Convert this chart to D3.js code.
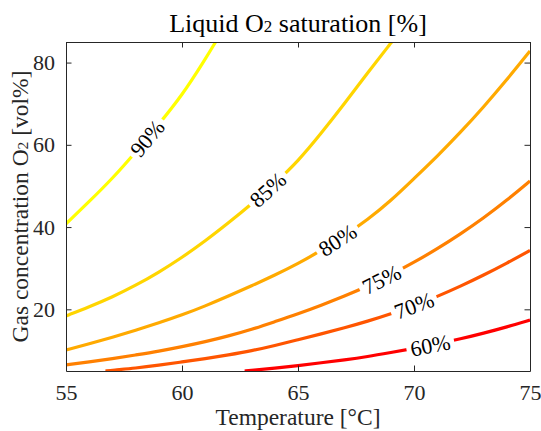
<!DOCTYPE html>
<html>
<head>
<meta charset="utf-8">
<script src="https://cdn.jsdelivr.net/npm/d3@7"></script>
<style>
  html, body { margin: 0; padding: 0; background: #fff; }
  svg { display: block; }
  text { font-family: "Liberation Serif", "Times New Roman", serif; fill: #262626; }
</style>
</head>
<body>
<svg id="chart" width="541" height="431"></svg>
<script>
// Contour levels of liquid O2 saturation [%]
const levels = [60, 70, 75, 80, 85, 90];

// Each contour: temperatures [°C] and gas O2 concentration [vol%]
const temp60 = [62.7, 63, 64, 65, 66, 67, 68, 69, 70, 71, 72, 73, 74, 75];
const gas60  = [5.0, 5.15, 5.7, 6.3, 7.0, 7.7, 8.5, 9.5, 10.5, 11.6, 12.8, 14.2, 15.7, 17.4];

const temp70 = [56.7, 57, 58, 59, 60, 61, 62, 63, 64, 65, 66, 67, 68, 69, 70, 71, 72, 73, 74, 75];
const gas70  = [5.0, 5.2, 5.7, 6.4, 7.2, 8.0, 8.9, 9.9, 11.2, 12.6, 14.0, 15.5, 17.1, 18.9, 20.9, 23.1, 25.6, 28.3, 31.2, 34.3];

const temp75 = [55, 56, 57, 58, 59, 60, 61, 62, 63, 64, 65, 66, 67, 68, 69, 70, 71, 72, 73, 74, 75];
const gas75  = [6.5, 7.2, 8.0, 8.9, 9.8, 10.9, 12.1, 13.5, 15.1, 17.0, 18.9, 21.0, 23.2, 25.6, 28.4, 31.4, 34.7, 38.3, 42.2, 46.5, 51.2];

const temp80 = [55, 56, 57, 58, 59, 60, 61, 62, 63, 64, 65, 66, 67, 68, 69, 70, 71, 72, 73, 74, 75];
const gas80  = [10.1, 11.6, 13.2, 14.9, 16.7, 18.6, 20.8, 23.2, 25.7, 28.3, 31.1, 34.3, 37.9, 41.8, 46.4, 51.8, 57.2, 63.0, 69.2, 75.8, 82.8];

const temp85 = [55, 56, 57, 58, 59, 60, 61, 62, 63, 64, 65, 66, 67, 68, 69, 69.1];
const gas85  = [18.4, 20.6, 23.0, 25.8, 29.0, 32.6, 36.6, 41.0, 45.6, 50.6, 56.0, 62.8, 70.0, 77.5, 84.7, 85.5];

const temp90 = [55, 56, 57, 58, 59, 60, 61, 61.5];
const gas90  = [40.8, 46.2, 51.8, 58.2, 65.0, 72.0, 80.8, 85.5];

// Temperature along each contour where its inline label sits
const labelTemp = [70.7, 70.0, 68.6, 66.7, 63.7, 58.5];

const xTicks = [55, 60, 65, 70, 75];
const yTicks = [20, 40, 60, 80];

const tempSeries = [temp60, temp70, temp75, temp80, temp85, temp90];
const gasSeries  = [gas60, gas70, gas75, gas80, gas85, gas90];

const svg = d3.select("#chart");
const m = { left: 66, right: 11, top: 42, bottom: 60 };
const W = 541, H = 431;

const x = d3.scaleLinear().domain([55, 75]).range([m.left, W - m.right]);
const y = d3.scaleLinear().domain([5, 85]).range([H - m.bottom, m.top]);

// Autumn colormap: red at the lowest level, yellow at the highest
const color = d3.scaleLinear()
  .domain([d3.min(levels), d3.max(levels)])
  .range(["#ff0000", "#ffff00"])
  .interpolate(d3.interpolateRgb);

svg.append("defs").append("clipPath").attr("id", "plotClip")
  .append("rect")
  .attr("x", x(55)).attr("y", y(85))
  .attr("width", x(75) - x(55)).attr("height", y(5) - y(85));

const plot = svg.append("g").attr("clip-path", "url(#plotClip)");

const line = d3.line()
  .x(d => x(d[0]))
  .y(d => y(d[1]))
  .curve(d3.curveBasis);

const fontSize = 22;

levels.forEach((lv, i) => {
  const pts = tempSeries[i].map((t, k) => [t, gasSeries[i][k]]);
  plot.append("path")
    .datum(pts)
    .attr("d", line)
    .attr("fill", "none")
    .attr("stroke", color(lv))
    .attr("stroke-width", 3.2);
});

// Inline labels, rotated along each contour, with a gap cut in the line
const labels = svg.append("g");
levels.forEach((lv, i) => {
  const pts = tempSeries[i].map((t, k) => [t, gasSeries[i][k]]);
  const tmp = svg.append("path").attr("d", line(pts)).attr("fill", "none");
  const node = tmp.node();
  const total = node.getTotalLength();
  const targetX = x(labelTemp[i]);
  let lo = 0, hi = total;
  for (let it = 0; it < 40; it++) {
    const mid = (lo + hi) / 2;
    if (node.getPointAtLength(mid).x < targetX) lo = mid; else hi = mid;
  }
  const L = (lo + hi) / 2;
  const p = node.getPointAtLength(L);
  const a = node.getPointAtLength(Math.max(0, L - 3));
  const b = node.getPointAtLength(Math.min(total, L + 3));
  const ang = Math.atan2(b.y - a.y, b.x - a.x) * 180 / Math.PI;
  tmp.remove();

  const g = labels.append("g")
    .attr("transform", `translate(${p.x},${p.y}) rotate(${ang})`);
  const gap = g.append("rect").attr("fill", "#fff");
  const t = g.append("text")
    .attr("text-anchor", "middle")
    .attr("dy", "0.35em")
    .style("font-size", fontSize + "px")
    .style("fill", "#000")
    .text(lv + "%");
  const w = t.node().getComputedTextLength();
  gap.attr("x", -w / 2 - 4).attr("y", -7).attr("width", w + 8).attr("height", 14);
});

// Axes box with inward ticks on all four sides
const axisColor = "#262626";
const tickLen = 5.5;
const ax = svg.append("g");

const xAxisB = d3.axisBottom(x).tickValues(xTicks).tickSizeInner(-tickLen).tickSizeOuter(0).tickPadding(13);
const xAxisT = d3.axisTop(x).tickValues(xTicks).tickSizeInner(-tickLen).tickSizeOuter(0).tickFormat("");
const yAxisL = d3.axisLeft(y).tickValues(yTicks).tickSizeInner(-tickLen).tickSizeOuter(0).tickPadding(11);
const yAxisR = d3.axisRight(y).tickValues(yTicks).tickSizeInner(-tickLen).tickSizeOuter(0).tickFormat("");

function styleAxis(g) {
  g.select(".domain").attr("stroke", axisColor).attr("stroke-width", 1);
  g.selectAll(".tick line").attr("stroke", axisColor).attr("stroke-width", 1);
  g.selectAll(".tick text")
    .style("font-family", '"Liberation Serif", "Times New Roman", serif')
    .style("font-size", "22px")
    .attr("fill", axisColor);
}

ax.append("g").attr("transform", `translate(0,${y(5)})`).call(xAxisB).call(styleAxis);
ax.append("g").attr("transform", `translate(0,${y(85)})`).call(xAxisT).call(styleAxis);
ax.append("g").attr("transform", `translate(${x(55)},0)`).call(yAxisL).call(styleAxis);
ax.append("g").attr("transform", `translate(${x(75)},0)`).call(yAxisR).call(styleAxis);
ax.selectAll(".domain").attr("fill", "none");

// Title
const title = svg.append("text")
  .attr("x", (x(55) + x(75)) / 2)
  .attr("y", 32)
  .attr("text-anchor", "middle")
  .style("font-size", "26px")
  .style("fill", "#000");
title.append("tspan").text("Liquid O");
title.append("tspan").text("2").style("font-size", "17px");
title.append("tspan").text(" saturation [%]");

// Axis labels
svg.append("text")
  .attr("x", (x(55) + x(75)) / 2)
  .attr("y", 425)
  .attr("text-anchor", "middle")
  .style("font-size", "23.5px")
  .text("Temperature [°C]");

const yl = svg.append("text")
  .attr("transform", `translate(28,${(y(5) + y(85)) / 2}) rotate(-90)`)
  .attr("text-anchor", "middle")
  .style("font-size", "23.5px");
yl.append("tspan").text("Gas concentration O");
yl.append("tspan").text("2").style("font-size", "15.5px");
yl.append("tspan").text(" [vol%]");
</script>
</body>
</html>
